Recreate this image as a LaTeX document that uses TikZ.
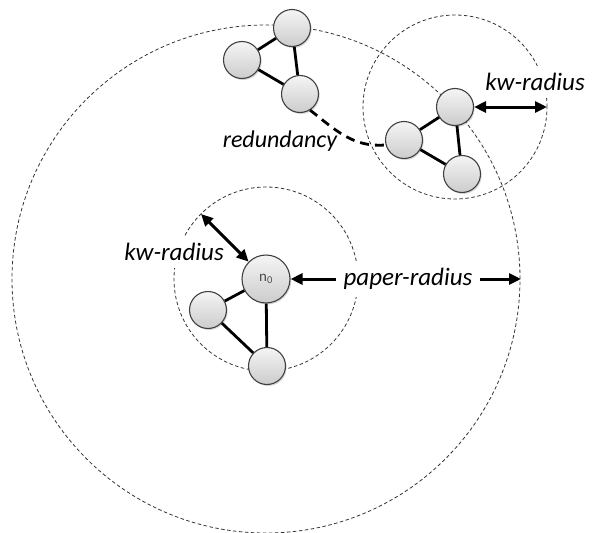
\documentclass[tikz,border=0pt]{standalone}
\usepackage{fontspec}
\setmainfont{Carlito}
\usetikzlibrary{arrows.meta,shadows}
\begin{document}
\begin{tikzpicture}[x=1pt,y=-1pt,
    vertex/.style={circle,draw=black!75,line width=1.1pt,top color=gray!8,bottom color=gray!40,
      minimum size=37pt,inner sep=0pt,
      drop shadow={opacity=0.3,shadow xshift=1.2pt,shadow yshift=-1.5pt}},
    ring/.style={draw=black!80,line width=0.8pt,dash pattern=on 3.5pt off 2.5pt},
    link/.style={line width=2.8pt},
    span/.style={line width=3pt,-{Triangle[length=12pt,width=11pt]}},
    lbl/.style={fill=white,inner xsep=6pt,inner ysep=7pt,font=\fontsize{25}{30}\selectfont\itshape}]
  \path[use as bounding box] (0,0) rectangle (592,533);
  \coordinate (c0) at (266,279);
  \coordinate (c1) at (455,107);
  \draw[ring] (c0) circle[radius=254pt];
  \draw[ring] (c0) circle[radius=92pt];
  \draw[ring] (c1) circle[radius=92pt];
  \node[vertex,minimum size=48pt,font=\fontsize{15}{18}\selectfont,text=black!70] (n0) at (c0) {n\textsubscript{0}};
  \node[vertex] (l2) at (208,310) {};
  \node[vertex] (l3) at (267,366) {};
  \node[vertex] (t1) at (292,28) {};
  \node[vertex] (t2) at (242,60) {};
  \node[vertex] (t3) at (300,94) {};
  \node[vertex] (r1) at (c1) {};
  \node[vertex] (r2) at (404,140) {};
  \node[vertex] (r3) at (462,174) {};
  \foreach \a/\b in {n0/l2,n0/l3,l2/l3,t1/t2,t1/t3,t2/t3,r1/r2,r1/r3,r2/r3}
    \draw[link] (\a) -- (\b);
  \draw[link,dash pattern=on 9pt off 6pt] (t3.-58) to[out=-38,in=185] (r2.195);
  \node[font=\fontsize{24}{29}\selectfont\itshape] (red) at (280,141) {redundancy};
  \node[lbl] (kwl) at (174,252) {kw-radius};
  \node[lbl] (kwr) at (535,82) {kw-radius};
  \node[lbl,inner xsep=7.5pt] (pr) at (408,279) {paper-radius};
  \coordinate (kwa) at (201,214);
  \coordinate (kwb) at (547,107);
  \coordinate (pe) at (521,279);
  \draw[span,{Triangle[length=12pt,width=11pt]}-{Triangle[length=12pt,width=11pt]}] (kwa) -- (n0);
  \draw[span,{Triangle[length=12pt,width=11pt]}-{Triangle[length=12pt,width=11pt]}] (r1) -- (kwb);
  \draw[span] (pr.west) -- (n0);
  \draw[span] (pr.east) -- (pe);
\end{tikzpicture}
\end{document}
